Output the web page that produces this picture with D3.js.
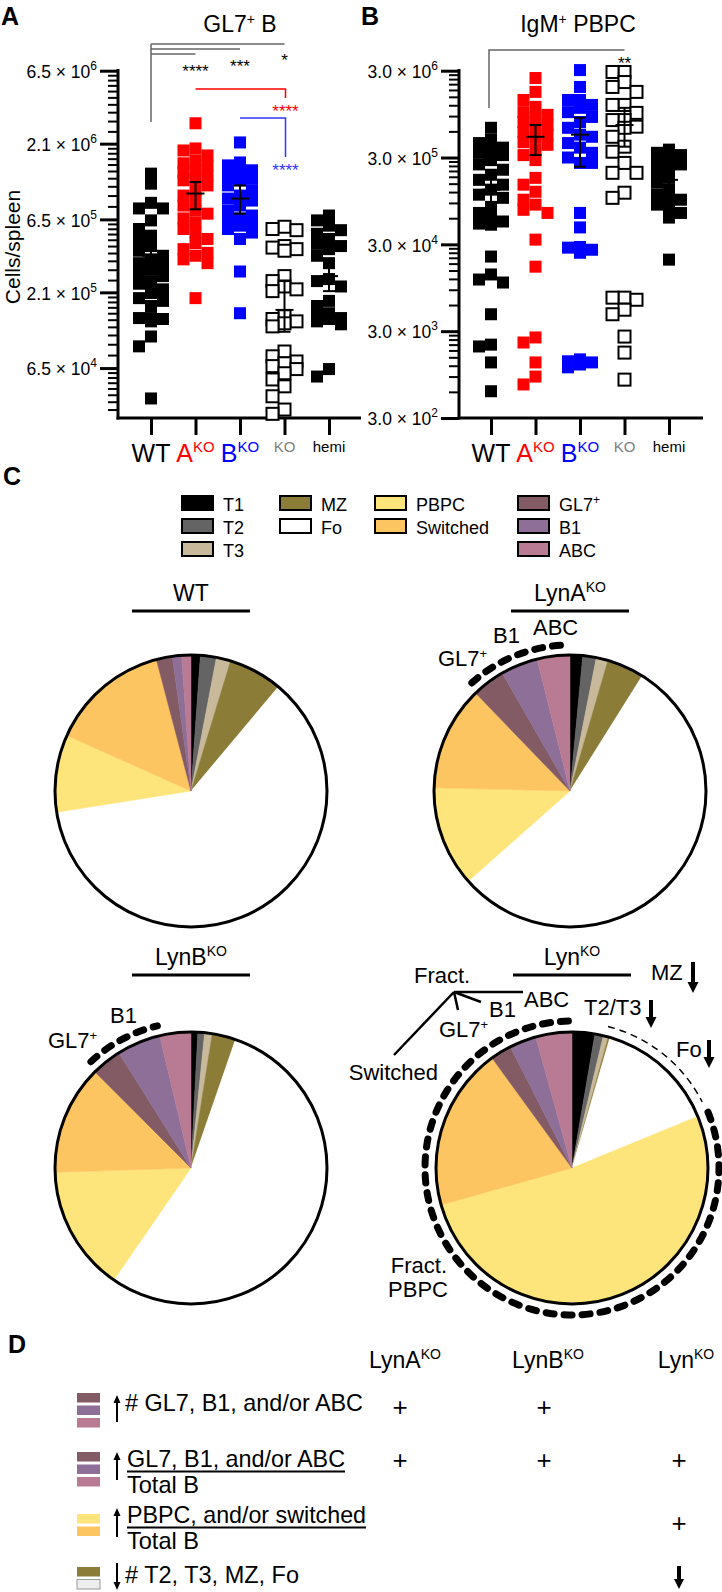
<!DOCTYPE html>
<html><head><meta charset="utf-8">
<script src="https://cdn.jsdelivr.net/npm/d3@7"></script>
<style>body{margin:0;background:#fff}svg{display:block;font-family:"Liberation Sans",Arial,Helvetica,sans-serif}</style>
</head><body><svg id="c" width="722" height="1592"></svg>
<script>
// ---------------- DATA ----------------
const groups = ["WT","A","B","KO","hemi"];
// Panel A: GL7+ B cells/spleen
const gl7WT = [1.32e6,1.13e6,8.4e5,7.7e5,7.7e5,6.4e5,5.6e5,5.05e5,4.67e5,4.3e5,4.0e5,3.7e5,3.5e5,3.3e5,3.16e5,3.0e5,2.84e5,2.7e5,2.5e5,2.4e5,2.2e5,2.08e5,1.92e5,1.84e5,1.7e5,1.41e5,1.41e5,1.39e5,1.34e5,1.06e5,9.1e4,4.06e4];
const gl7AKO = [2.88e6,1.95e6,1.89e6,1.75e6,1.62e6,1.55e6,1.5e6,1.39e6,1.35e6,1.28e6,1.22e6,1.19e6,1.1e6,1.02e6,9.4e5,8.7e5,8.05e5,7.45e5,7.1e5,6.6e5,6.2e5,5.6e5,5.3e5,4.8e5,4.5e5,4.1e5,3.87e5,3.7e5,3.5e5,3.3e5,1.92e5];
const gl7BKO = [2.14e6,1.57e6,1.5e6,1.39e6,1.35e6,1.28e6,1.22e6,1.19e6,1.1e6,1.02e6,9.4e5,8.97e5,8.7e5,8.05e5,7.45e5,6.9e5,6.6e5,6.4e5,6.2e5,5.9e5,5.6e5,5.3e5,4.8e5,2.9e5,1.52e5];
const gl7KO = [5.8e5,5.6e5,5.5e5,4.3e5,4.2e5,4.1e5,4.0e5,2.7e5,2.5e5,2.3e5,2.2e5,2.14e5,1.45e5,1.39e5,1.34e5,1.3e5,1.24e5,8.4e4,7.8e4,7.2e4,7.0e4,6.7e4,6.4e4,6.0e4,5.45e4,4.9e4,4.2e4,3.42e4,3.2e4];
const gl7Hemi = [6.9e5,6.4e5,5.9e5,5.5e5,5.2e5,4.8e5,4.45e5,4.3e5,4.1e5,3.7e5,3.3e5,2.58e5,2.5e5,2.3e5,1.84e5,1.7e5,1.52e5,1.45e5,1.41e5,1.39e5,1.34e5,1.28e5,6.4e4,5.7e4];
const gl7Mean = [3.7e5,9.7e5,8.97e5,1.6e5,2.7e5];
const gl7Lo   = [3.1e5,7.6e5,7.1e5,1.14e5,2.14e5];
const gl7Hi   = [4.4e5,1.16e6,1.1e6,2.5e5,3.3e5];
const gl7Ticks = [6.5e4,2.1e5,6.5e5,2.1e6,6.5e6];
// Panel B: IgM+ PBPC cells/spleen
const igmWT = [6.6e5,4.8e5,4.4e5,3.9e5,3.7e5,3.4e5,3.2e5,2.8e5,2.5e5,2.17e5,1.9e5,1.66e5,1.46e5,1.28e5,1.12e5,1.03e5,8.1e4,6.9e4,6.1e4,5.5e4,5.2e4,5.05e4,2.17e4,1.35e4,1.18e4,1.09e4,4.7e3,2.1e3,2.0e3,1.31e3,6.1e2];
const igmAKO = [2.47e6,1.71e6,1.38e6,1.15e6,1.0e6,9.3e5,8.6e5,7.7e5,7.1e5,6.6e5,5.9e5,5.5e5,5.05e5,4.5e5,4.2e5,3.7e5,3.2e5,2.8e5,1.75e5,1.46e5,1.21e5,9.8e4,8.6e4,7.5e4,6.9e4,3.4e4,1.66e4,2.54e3,2.22e3,1.31e3,9.0e2,7.3e2];
const igmBKO = [3.05e6,1.95e6,1.38e6,1.38e6,1.21e6,1.12e6,1.0e6,8.8e5,7.7e5,6.6e5,5.5e5,5.2e5,4.4e5,3.9e5,3.4e5,3.0e5,2.6e5,2.6e5,6.9e4,4.7e4,2.8e4,2.75e4,2.6e4,2.4e4,1.42e3,1.35e3,1.31e3,1.24e3,1.15e3];
const igmKO = [2.9e6,2.9e6,2.22e6,1.95e6,1.71e6,1.21e6,1.21e6,9.8e5,8.1e5,8.1e5,6.8e5,6.6e5,5.2e5,4.0e5,3.5e5,2.6e5,2.0e5,2.0e5,1.18e5,1.03e5,7.3e3,7.3e3,6.9e3,5.3e3,4.7e3,2.6e3,1.7e3,8.3e2];
const igmHemi = [3.7e5,3.4e5,3.2e5,3.05e5,2.8e5,2.5e5,2.35e5,2.05e5,1.75e5,1.54e5,1.28e5,1.12e5,9.8e4,9.8e4,8.6e4,8.1e4,6.9e4,6.1e4,2.0e4];
const igmMean = [1.28e5,5.2e5,5.5e5,7.1e5,1.66e5];
const igmLo   = [9.0e4,3.2e5,2.35e5,4.0e5,1.4e5];
const igmHi   = [1.8e5,7.1e5,8.6e5,1.12e6,1.95e5];
const igmTicks = [3e2,3e3,3e4,3e5,3e6];
// significance
const sigA = [["WT","KO","*"],["WT","B","***"],["WT","A","****"]];
const sigA2 = [["A","KO","****","#ff0000"],["B","KO","****","#3333ff"]];
const sigB = [["WT","KO","**"]];
// Panel C: fractions (% of total B)
const cellTypes = ["T1","T2","T3","MZ","Fo","PBPC","Switched","GL7","B1","ABC"];
const cellColors = ["#000000","#646464","#c9b99b","#8b7c38","#ffffff","#fde57b","#fdc562","#835b65","#8d6f97","#b97b94"];
const pieWT   = [1.1,1.9,1.7,6.4,61.4,9.2,14.2,1.9,1.1,1.1];
const pieLynA = [1.5,1.6,1.4,4.4,54.5,11.9,12.4,3.9,4.4,3.9];
const pieLynB = [0.8,0.8,0.9,2.8,54.3,14.9,13.0,3.6,5.2,3.7];
const pieLyn  = [2.7,1.0,0.6,0.2,14.3,51.8,19.4,2.5,3.2,4.3];
// Panel D
const dCols = ["LynA","LynB","Lyn"];
const dMarks = [["+","+",""],["+","+","+"],["","","+"],["","","down"]];

// ---------------- DRAW ----------------
const svg = d3.select("#c");
const colorOf = {WT:"#000",A:"#ff0000",B:"#0000ff",KO:"#000",hemi:"#000"};

function sup(t, main, s, size, dy){
  t.append("tspan").text(main);
  t.append("tspan").attr("font-size",size).attr("dy",-dy).text(s);
  return t;
}

function swarm(vals, y, cx){
  const pts = vals.map(v=>({v,y:y(v)})).sort((a,b)=>a.y-b.y);
  const placed=[]; const step=12, thr=10;
  pts.forEach(p=>{
    let best=null, bestD=-1;
    for(const o of [0,-step,step]){
      const same=placed.filter(q=>Math.abs(q.x-(cx+o))<1);
      const dmin=same.length?d3.min(same,q=>Math.abs(q.y-p.y)):1e9;
      if(dmin>=thr){best=o;break;}
      if(dmin>bestD){bestD=dmin;best=o;}
    }
    p.x=cx+best; placed.push(p);
  });
  return placed;
}

function scatterPanel(cfg){
  const g = svg.append("g");
  const x = d3.scalePoint().domain(groups).range(cfg.xr);
  const y = d3.scaleLog().domain(cfg.yd).range([418,70.7]);
  const minors=[];
  const M = cfg.minorBase;
  for(let i=0;i<M.length-1;i++){
    if(cfg.minorMode==="lin"){ for(let k=1;k<10;k++){ const v=M[i]+(M[i+1]-M[i])*k/10; if(v>=cfg.yd[0]&&v<=cfg.yd[1]) minors.push(v);} }
    else { for(let k=2;k<10;k++){ const v=M[i]*k; if(v<=cfg.yd[1]) minors.push(v);} }
  }
  const gm = g.append("g").attr("transform",`translate(${cfg.ax},0)`).call(d3.axisLeft(y).tickValues(minors).tickSize(10).tickSizeOuter(0).tickFormat(()=>""));
  gm.select(".domain").remove(); gm.selectAll("line").attr("stroke-width",2);
  const ga = g.append("g").attr("transform",`translate(${cfg.ax},0)`).call(d3.axisLeft(y).tickValues(cfg.ticks).tickSize(18).tickSizeOuter(0).tickPadding(3));
  ga.select(".domain").remove(); ga.selectAll("line").attr("stroke-width",3);
  ga.selectAll(".tick text").each(function(d){
    const e=Math.floor(Math.log10(d)+1e-9); const m=(d/Math.pow(10,e)).toFixed(1);
    const t=d3.select(this).text(null).attr("font-size",17.5).attr("fill","#000").attr("font-family",null).attr("dy","0.38em");
    t.append("tspan").text(m+" × 10"); t.append("tspan").attr("font-size",12).attr("dy",-8).text(e);
  });
  g.append("line").attr("x1",cfg.ax).attr("x2",cfg.ax).attr("y1",69).attr("y2",419.5).attr("stroke","#000").attr("stroke-width",3);
  g.append("line").attr("x1",cfg.ax-1.5).attr("x2",cfg.xend).attr("y1",418).attr("y2",418).attr("stroke","#000").attr("stroke-width",3);
  const gx = g.append("g").attr("transform","translate(0,418)").call(d3.axisBottom(x).tickSize(17).tickSizeOuter(0).tickFormat(()=>""));
  gx.select(".domain").remove(); gx.selectAll("line").attr("stroke-width",3);
  groups.forEach(k=>{
    const t=g.append("text").attr("x",x(k)).attr("text-anchor","middle");
    if(k==="WT") t.attr("y",462).attr("font-size",25).text("WT");
    else if(k==="A"||k==="B") { t.attr("y",462).attr("font-size",25).attr("fill",colorOf[k]); sup(t,k,"KO",15,10); }
    else if(k==="KO") t.attr("y",452).attr("font-size",15).attr("fill","#808080").text("KO");
    else t.attr("y",452).attr("font-size",15).text("hemi");
  });
  cfg.data.forEach((vals,i)=>{
    const k=groups[i]; const pts=swarm(vals,y,x(k));
    const open = k==="KO";
    g.append("g").selectAll("rect").data(pts).join("rect")
      .attr("x",d=>d.x-6).attr("y",d=>d.y-6).attr("width",12).attr("height",12)
      .attr("fill",open?"#fff":colorOf[k]).attr("stroke",open?"#000":"none").attr("stroke-width",open?2:0);
  });
  groups.forEach((k,i)=>{
    const cx=x(k), gg=g.append("g").attr("stroke","#000").attr("stroke-width",2);
    gg.append("line").attr("x1",cx).attr("x2",cx).attr("y1",y(cfg.hi[i])).attr("y2",y(cfg.lo[i]));
    gg.append("line").attr("x1",cx-6).attr("x2",cx+6).attr("y1",y(cfg.hi[i])).attr("y2",y(cfg.hi[i]));
    gg.append("line").attr("x1",cx-6).attr("x2",cx+6).attr("y1",y(cfg.lo[i])).attr("y2",y(cfg.lo[i]));
    gg.append("line").attr("x1",cx-9).attr("x2",cx+9).attr("y1",y(cfg.mean[i])).attr("y2",y(cfg.mean[i]));
  });
  return {x,y,g};
}

svg.append("text").attr("x",1).attr("y",25).attr("font-size",25).attr("font-weight","bold").text("A");
svg.append("text").attr("x",361).attr("y",25).attr("font-size",25).attr("font-weight","bold").text("B");
svg.append("text").attr("x",3).attr("y",485).attr("font-size",25).attr("font-weight","bold").text("C");
svg.append("text").attr("x",8).attr("y",1353).attr("font-size",25).attr("font-weight","bold").text("D");

sup(svg.append("text").attr("x",240).attr("y",32).attr("text-anchor","middle").attr("font-size",23),"GL7","+",14,8).append("tspan").attr("dy",8).attr("font-size",23).text(" B");
sup(svg.append("text").attr("x",578).attr("y",32).attr("text-anchor","middle").attr("font-size",23),"IgM","+",14,8).append("tspan").attr("dy",8).attr("font-size",23).text(" PBPC");
svg.append("text").attr("transform","translate(20,247) rotate(-90)").attr("text-anchor","middle").attr("font-size",21).text("Cells/spleen");

const pA = scatterPanel({xr:[151,329],yd:[3.0e4,6.5e6],ax:118,xend:361,ticks:gl7Ticks,minorBase:[2.1e4].concat(gl7Ticks),minorMode:"lin",
  data:[gl7WT,gl7AKO,gl7BKO,gl7KO,gl7Hemi],mean:gl7Mean,lo:gl7Lo,hi:gl7Hi});
const pB = scatterPanel({xr:[491,669],yd:[3e2,3e6],ax:459,xend:703,ticks:igmTicks,minorBase:igmTicks,minorMode:"mult",
  data:[igmWT,igmAKO,igmBKO,igmKO,igmHemi],mean:igmMean,lo:igmLo,hi:igmHi});

const lvA=[44,49,54], starY=[60,66,71];
svg.append("line").attr("x1",pA.x("WT")).attr("x2",pA.x("WT")).attr("y1",lvA[0]).attr("y2",122).attr("stroke","#666").attr("stroke-width",1.5);
sigA.forEach((s,i)=>{
  svg.append("line").attr("x1",pA.x(s[0])).attr("x2",pA.x(s[1])).attr("y1",lvA[i]).attr("y2",lvA[i]).attr("stroke","#666").attr("stroke-width",1.5);
  svg.append("text").attr("x",pA.x(s[1])).attr("y",starY[i]+6).attr("text-anchor","middle").attr("font-size",17).text(s[2]);
});
[[89,98,117],[118,157,176]].forEach((L,i)=>{
  const s=sigA2[i];
  svg.append("path").attr("d",`M${pA.x(s[0])},${L[0]}H${pA.x(s[1])+1}V${L[1]}`).attr("fill","none").attr("stroke",s[3]).attr("stroke-width",1.5);
  svg.append("text").attr("x",pA.x(s[1])+1).attr("y",L[2]).attr("text-anchor","middle").attr("font-size",17).attr("fill",s[3]).text(s[2]);
});
sigB.forEach(s=>{
  svg.append("path").attr("d",`M${pB.x(s[0])-2},108V50H${pB.x(s[1])}`).attr("fill","none").attr("stroke","#666").attr("stroke-width",1.5);
  svg.append("text").attr("x",pB.x(s[1])).attr("y",69).attr("text-anchor","middle").attr("font-size",17).text(s[2]);
});

// ---------------- Panel C legend ----------------
const legendCols=[[0,1,2],[3,4],[5,6],[7,8,9]], legX=[182,280,375,518];
legendCols.forEach((col,ci)=>col.forEach((idx,ri)=>{
  const yy=496+ri*23;
  svg.append("rect").attr("x",legX[ci]).attr("y",yy).attr("width",31).attr("height",14).attr("fill",cellColors[idx]).attr("stroke","#000").attr("stroke-width",2);
  const t=svg.append("text").attr("x",legX[ci]+41).attr("y",yy+15).attr("font-size",18);
  if(cellTypes[idx]==="GL7") sup(t,"GL7","+",12,7); else t.text(cellTypes[idx]);
}));

// ---------------- Pies ----------------
const R=136;
const pieGen=d3.pie().sort(null).value(d=>d);
const arcGen=d3.arc().innerRadius(0).outerRadius(R);
function arcLine(r,a0,a1){const p=d3.path();p.arc(0,0,r,a0-Math.PI/2,a1-Math.PI/2,false);return p.toString();}
function drawPie(vals,cx,cy,title,supT,titleY){
  const g=svg.append("g").attr("transform",`translate(${cx},${cy})`);
  const arcs=pieGen(vals);
  g.selectAll("path.sl").data(arcs).join("path").attr("class","sl").attr("d",arcGen).attr("fill",(d,i)=>cellColors[i]).attr("stroke",(d,i)=>cellColors[i]).attr("stroke-width",0.5);
  g.append("circle").attr("r",R).attr("fill","none").attr("stroke","#000").attr("stroke-width",3);
  const t=svg.append("text").attr("x",cx).attr("y",titleY).attr("text-anchor","middle").attr("font-size",23);
  if(supT) sup(t,title,supT,14,9); else t.text(title);
  svg.append("line").attr("x1",cx-59).attr("x2",cx+59).attr("y1",titleY+10).attr("y2",titleY+10).attr("stroke","#000").attr("stroke-width",3);
  return {g,arcs};
}
function dashArc(g,r,a0,a1){
  g.append("path").attr("d",arcLine(r,a0,a1)).attr("fill","none").attr("stroke","#000").attr("stroke-width",7).attr("stroke-linecap","round").attr("stroke-dasharray","8 10");
}
function lbl(g,dx,dy,txt,anchor){
  const t=g.append("text").attr("x",dx).attr("y",dy).attr("font-size",22).attr("text-anchor",anchor||"start");
  if(txt==="GL7") sup(t,"GL7","+",13,8); else t.text(txt);
  return t;
}
const iG=cellTypes.indexOf("GL7"), iB1=cellTypes.indexOf("B1"), iABC=cellTypes.indexOf("ABC"), iP=cellTypes.indexOf("PBPC"), iT2=cellTypes.indexOf("T2"), iFo=cellTypes.indexOf("Fo");

const pWT=drawPie(pieWT,191,791,"WT",null,601);
const pLA=drawPie(pieLynA,570,791,"LynA","KO",601);
dashArc(pLA.g,146,pLA.arcs[iG].startAngle+0.03,pLA.arcs[iABC].endAngle);
lbl(pLA.g,-132,-125,"GL7"); lbl(pLA.g,-77,-148,"B1"); lbl(pLA.g,-37,-156,"ABC");

const pLB=drawPie(pieLynB,191,1168,"LynB","KO",965);
dashArc(pLB.g,146,pLB.arcs[iG].startAngle+0.03,pLB.arcs[iB1].endAngle);
lbl(pLB.g,-143,-120,"GL7"); lbl(pLB.g,-81,-145,"B1");

const pL=drawPie(pieLyn,572,1168,"Lyn","KO",965);
dashArc(pL.g,147,pL.arcs[iP].startAngle,pL.arcs[iABC].endAngle);
pL.g.append("path").attr("d",arcLine(146,pL.arcs[iT2].startAngle+0.08,pL.arcs[iFo].endAngle-0.08)).attr("fill","none").attr("stroke","#000").attr("stroke-width",1.5).attr("stroke-dasharray","7 5");
lbl(pL.g,-158,-185,"Fract."); lbl(pL.g,-48,-161,"ABC"); lbl(pL.g,-83,-151,"B1"); lbl(pL.g,-133,-131,"GL7");
lbl(pL.g,12,-153,"T2/T3"); lbl(pL.g,79,-188,"MZ"); lbl(pL.g,104,-111,"Fo");
lbl(pL.g,-134,-88,"Switched","end");
lbl(pL.g,-125,105,"Fract.","end"); lbl(pL.g,-124,129,"PBPC","end");
pL.g.append("path").attr("d","M-49,-176H-118L-91,-166M-118,-176L-114,-158M-118,-176L-178,-113").attr("fill","none").attr("stroke","#000").attr("stroke-width",2.5).attr("stroke-linejoin","miter");
function arrow(g,x,y1,y2,w,hw,hh){
  const dir=y2>y1?1:-1;
  g.append("line").attr("x1",x).attr("x2",x).attr("y1",y1).attr("y2",y2-dir*hh*0.8).attr("stroke","#000").attr("stroke-width",w);
  g.append("path").attr("d",`M${x-hw/2},${y2-dir*hh}L${x+hw/2},${y2-dir*hh}L${x},${y2}Z`).attr("fill","#000");
}
arrow(pL.g,79,-168,-140,4,11,11);
arrow(pL.g,121,-206,-175,4,11,11);
arrow(pL.g,137,-128,-100,4,11,11);

// ---------------- Panel D ----------------
const dColX=[405,548,686], plusX=[400,544,679];
dCols.forEach((c,i)=>sup(svg.append("text").attr("x",dColX[i]).attr("y",1368).attr("text-anchor","middle").attr("font-size",23),c,"KO",14,9));
const dRows=[
  {sw:[iG,iB1,iABC],top:1393,num:"# GL7, B1, and/or ABC",tl:238,y:1411,den:null,arr:[1422,1395]},
  {sw:[iG,iB1,iABC],top:1452,num:"GL7, B1, and/or ABC",tl:218,y:1467,den:"Total B",arr:[1480,1452]},
  {sw:[iP,cellTypes.indexOf("Switched")],top:1514,num:"PBPC, and/or switched",tl:239,y:1523,den:"Total B",arr:[1537,1508]},
  {sw:[cellTypes.indexOf("MZ"),-1],top:1567,num:"# T2, T3, MZ, Fo",tl:174,y:1583,den:null,arr:[1563,1590]}
];
const plusY=[1416,1469,1532];
dRows.forEach((r,ri)=>{
  r.sw.forEach((ci,k)=>{
    svg.append("rect").attr("x",77).attr("y",r.top+k*12.5).attr("width",23).attr("height",9.5)
      .attr("fill",ci<0?"#eeeeee":cellColors[ci]).attr("stroke",ci<0?"#999":"none").attr("stroke-width",1);
  });
  arrow(svg,117,r.arr[0],r.arr[1],2,7,8);
  const isFrac=!!r.den;
  const tx=isFrac?127:125;
  svg.append("text").attr("x",tx).attr("y",r.y).attr("font-size",24).attr("textLength",r.tl).attr("lengthAdjust","spacingAndGlyphs").text(r.num);
  if(isFrac){
    svg.append("line").attr("x1",tx).attr("x2",tx+r.tl).attr("y1",r.y+4.5).attr("y2",r.y+4.5).attr("stroke","#000").attr("stroke-width",2);
    svg.append("text").attr("x",tx).attr("y",r.y+26).attr("font-size",24).attr("textLength",72).attr("lengthAdjust","spacingAndGlyphs").text(r.den);
  }
  dMarks[ri].forEach((m,ci)=>{
    if(m==="+") svg.append("text").attr("x",plusX[ci]).attr("y",plusY[ri]).attr("text-anchor","middle").attr("font-size",26).text("+");
    else if(m==="down") arrow(svg,plusX[ci],1566,1589,4,10,10);
  });
});
</script></body></html>
